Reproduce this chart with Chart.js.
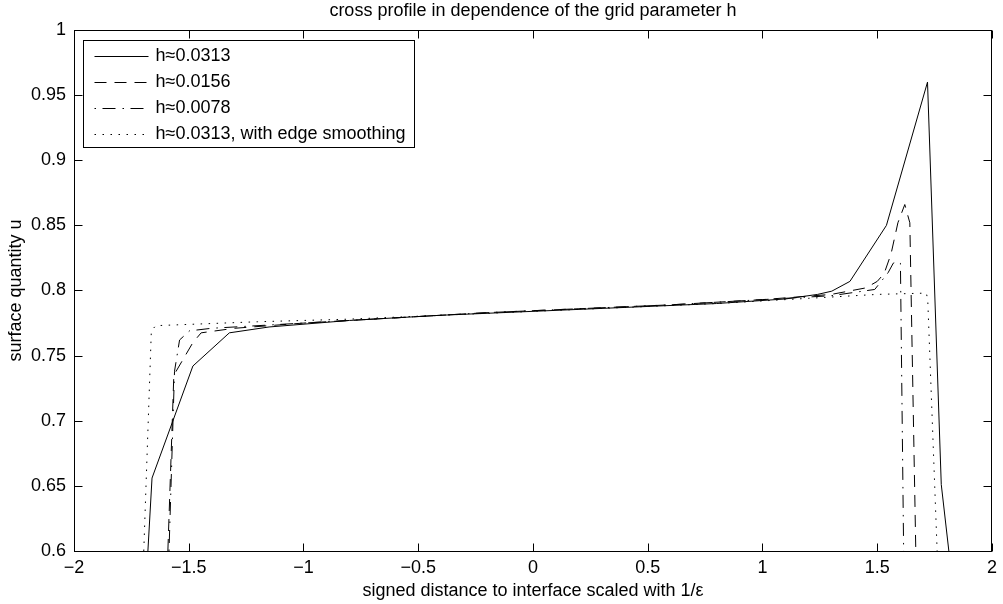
<!DOCTYPE html>
<html>
<head>
<meta charset="utf-8">
<script src="https://cdn.jsdelivr.net/npm/chart.js@4.4.1/dist/chart.umd.min.js"></script>
<style>
  html, body { margin: 0; padding: 0; background: #fff; }
  #wrap { width: 1003px; height: 604px; position: relative; }
</style>
</head>
<body>
<div id="wrap"><canvas id="profile"></canvas></div>
<script>
const seriesLabels = ['h≈0.0313', 'h≈0.0156', 'h≈0.0078', 'h≈0.0313, with edge smoothing'];

// h ≈ 0.0313
const x0313 = [-1.678, -1.660, -1.482, -1.323, -1.15, -0.8, -0.4, 0, 0.4, 0.8, 1.1, 1.24, 1.302, 1.381, 1.540, 1.719, 1.779, 1.812];
const u0313 = [0.6, 0.656, 0.742, 0.7675, 0.772, 0.777, 0.781, 0.784, 0.787, 0.790, 0.7935, 0.797, 0.7995, 0.807, 0.850, 0.960, 0.651, 0.6];

// h ≈ 0.0156
const x0156 = [-1.591, -1.565, -1.482, -1.446, -1.30, -1.0, -0.6, -0.2, 0.2, 0.6, 1.0, 1.3, 1.45, 1.50, 1.53, 1.56, 1.59, 1.62, 1.642, 1.668];
const u0156 = [0.6, 0.735, 0.760, 0.7675, 0.771, 0.775, 0.779, 0.783, 0.786, 0.789, 0.793, 0.797, 0.802, 0.807, 0.813, 0.828, 0.852, 0.866, 0.852, 0.6];

// h ≈ 0.0078
const x0078 = [-1.586, -1.562, -1.540, -1.497, -1.40, -1.0, -0.6, -0.2, 0.2, 0.6, 1.0, 1.3, 1.489, 1.547, 1.570, 1.591, 1.601, 1.615];
const u0078 = [0.6, 0.738, 0.762, 0.769, 0.771, 0.775, 0.779, 0.783, 0.786, 0.789, 0.793, 0.796, 0.8008, 0.8136, 0.821, 0.8225, 0.821, 0.6];

// h ≈ 0.0313 with edge smoothing
const xSmooth = [-1.696, -1.663, -1.644, -1.2, -0.8, -0.4, 0, 0.4, 0.8, 1.2, 1.5, 1.714, 1.720, 1.761];
const uSmooth = [0.6, 0.769, 0.773, 0.776, 0.778, 0.781, 0.784, 0.787, 0.790, 0.794, 0.797, 0.798, 0.793, 0.6];

const xTicks = [-2, -1.5, -1, -0.5, 0, 0.5, 1, 1.5, 2];
const xTickLabels = ['−2', '−1.5', '−1', '−0.5', '0', '0.5', '1', '1.5', '2'];
const yTicks = [0.6, 0.65, 0.7, 0.75, 0.8, 0.85, 0.9, 0.95, 1];
const yTickLabels = ['0.6', '0.65', '0.7', '0.75', '0.8', '0.85', '0.9', '0.95', '1'];

const FONT = '"Liberation Sans", Arial, Helvetica, sans-serif';
const FONT_SIZE = 18;

const toPoints = (xs, ys) => xs.map((x, i) => ({ x, y: ys[i] }));

const lineStyle = (label, xs, ys, dash) => ({
  label,
  data: toPoints(xs, ys),
  showLine: true,
  borderColor: '#000',
  backgroundColor: '#000',
  borderWidth: 1,
  borderDash: dash,
  pointRadius: 0,
  tension: 0
});

// Matlab-like box with inward tick marks on all four sides
const boxTicksPlugin = {
  id: 'boxTicks',
  afterDatasetsDraw(chart) {
    const { ctx, chartArea: a, scales } = chart;
    const L = Math.round(a.left) + 0.5, R = Math.round(a.right) - 0.5;
    const T = Math.round(a.top) + 0.5, B = Math.round(a.bottom) + 0.5;
    const len = 8;
    ctx.save();
    ctx.strokeStyle = '#000';
    ctx.lineWidth = 1;
    ctx.setLineDash([]);
    ctx.strokeRect(L, T, R - L, B - T);
    ctx.beginPath();
    scales.x.ticks.forEach(t => {
      const px = Math.round(scales.x.getPixelForValue(t.value)) + 0.5;
      ctx.moveTo(px, B); ctx.lineTo(px, B - len);
      ctx.moveTo(px, T); ctx.lineTo(px, T + len);
    });
    scales.y.ticks.forEach(t => {
      const py = Math.round(scales.y.getPixelForValue(t.value)) + 0.5;
      ctx.moveTo(L, py); ctx.lineTo(L + len, py);
      ctx.moveTo(R, py); ctx.lineTo(R - len, py);
    });
    ctx.stroke();
    ctx.restore();
  }
};

// legend box in the upper left corner, line samples keep the dash pattern
const legendPlugin = {
  id: 'boxLegend',
  afterDraw(chart) {
    const { ctx, chartArea: a } = chart;
    const datasets = chart.data.datasets;
    ctx.save();
    ctx.font = `${FONT_SIZE}px ${FONT}`;
    const textW = Math.max(...datasets.map(d => ctx.measureText(d.label).width));
    const x0 = Math.round(a.left) + 9.5, y0 = Math.round(a.top) + 10.5;
    const w = Math.round(textW + 72 + 9), h = 107;
    ctx.fillStyle = '#fff';
    ctx.fillRect(x0, y0, w, h);
    ctx.strokeStyle = '#000';
    ctx.lineWidth = 1;
    ctx.strokeRect(x0, y0, w, h);
    ctx.textBaseline = 'middle';
    ctx.textAlign = 'left';
    ctx.fillStyle = '#000';
    datasets.forEach((ds, i) => {
      const y = Math.round(y0 + 15 + i * 26) + 0.5;
      ctx.setLineDash(ds.borderDash || []);
      ctx.beginPath();
      ctx.moveTo(x0 + 11, y);
      ctx.lineTo(x0 + 65, y);
      ctx.stroke();
      ctx.setLineDash([]);
      ctx.fillText(ds.label, x0 + 72, y);
    });
    ctx.restore();
  }
};

new Chart(document.getElementById('profile'), {
  type: 'scatter',
  data: {
    datasets: [
      lineStyle(seriesLabels[0], x0313, u0313, []),
      lineStyle(seriesLabels[1], x0156, u0156, [12, 8]),
      lineStyle(seriesLabels[2], x0078, u0078, [1.5, 6.5, 13, 7]),
      lineStyle(seriesLabels[3], xSmooth, uSmooth, [1.5, 6.5])
    ]
  },
  options: {
    responsive: true,
    maintainAspectRatio: false,
    animation: false,
    layout: { padding: { left: 0, right: 7, top: 0, bottom: 0 } },
    scales: {
      x: {
        type: 'linear',
        min: -2,
        max: 2,
        afterBuildTicks: s => { s.ticks = xTicks.map(value => ({ value })); },
        afterFit: s => { s.height = 53; },
        grid: { display: false, drawTicks: false },
        border: { display: false },
        ticks: {
          color: '#000',
          font: { family: FONT, size: FONT_SIZE },
          padding: 6,
          autoSkip: false,
          maxRotation: 0,
          callback: (v, i) => xTickLabels[i]
        },
        title: {
          display: true,
          text: 'signed distance to interface scaled with 1/ε',
          color: '#000',
          font: { family: FONT, size: FONT_SIZE },
          padding: { top: 0, bottom: 2 }
        }
      },
      y: {
        type: 'linear',
        min: 0.6,
        max: 1,
        afterBuildTicks: s => { s.ticks = yTicks.map(value => ({ value })); },
        afterFit: s => { s.width = 74; },
        grid: { display: false, drawTicks: false },
        border: { display: false },
        ticks: {
          color: '#000',
          font: { family: FONT, size: FONT_SIZE },
          padding: 8,
          autoSkip: false,
          callback: (v, i) => yTickLabels[i]
        },
        title: {
          display: true,
          text: 'surface quantity u',
          color: '#000',
          font: { family: FONT, size: FONT_SIZE },
          padding: { top: 5, bottom: 0 }
        }
      }
    },
    plugins: {
      legend: { display: false },
      tooltip: { enabled: false },
      title: {
        display: true,
        fullSize: false,
        text: 'cross profile in dependence of the grid parameter h',
        color: '#000',
        font: { family: FONT, size: FONT_SIZE, weight: 'normal' },
        padding: { top: 0, bottom: 8.4 }
      }
    }
  },
  plugins: [boxTicksPlugin, legendPlugin]
});
</script>
</body>
</html>
